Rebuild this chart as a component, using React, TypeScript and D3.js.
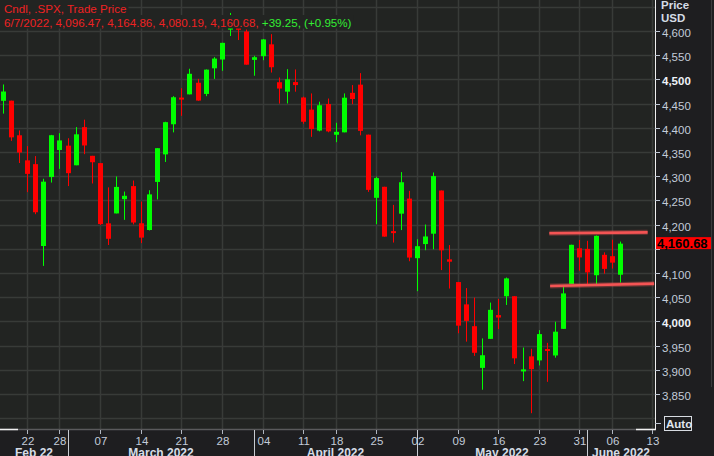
import { useEffect, useRef } from "react";
import * as d3 from "d3";

// daily S&P 500 candles
const dates = [
  "2022-02-16", "2022-02-17", "2022-02-18", "2022-02-22", "2022-02-23", "2022-02-24", "2022-02-25",
  "2022-02-28", "2022-03-01", "2022-03-02", "2022-03-03", "2022-03-04",
  "2022-03-07", "2022-03-08", "2022-03-09", "2022-03-10", "2022-03-11",
  "2022-03-14", "2022-03-15", "2022-03-16", "2022-03-17", "2022-03-18",
  "2022-03-21", "2022-03-22", "2022-03-23", "2022-03-24", "2022-03-25",
  "2022-03-28", "2022-03-29", "2022-03-30", "2022-03-31", "2022-04-01",
  "2022-04-04", "2022-04-05", "2022-04-06", "2022-04-07", "2022-04-08",
  "2022-04-11", "2022-04-12", "2022-04-13", "2022-04-14",
  "2022-04-18", "2022-04-19", "2022-04-20", "2022-04-21", "2022-04-22",
  "2022-04-25", "2022-04-26", "2022-04-27", "2022-04-28", "2022-04-29",
  "2022-05-02", "2022-05-03", "2022-05-04", "2022-05-05", "2022-05-06",
  "2022-05-09", "2022-05-10", "2022-05-11", "2022-05-12", "2022-05-13",
  "2022-05-16", "2022-05-17", "2022-05-18", "2022-05-19", "2022-05-20",
  "2022-05-23", "2022-05-24", "2022-05-25", "2022-05-26", "2022-05-27",
  "2022-05-31", "2022-06-01", "2022-06-02", "2022-06-03",
  "2022-06-06", "2022-06-07",
];
const opens = [
  4455.75, 4456.06, 4384.57, 4332.74, 4324.93, 4155.77, 4298.38,
  4354.17, 4363.14, 4322.56, 4401.31, 4342.12,
  4327.01, 4202.66, 4223.1, 4252.55, 4279.5,
  4202.75, 4188.82, 4288.14, 4345.11, 4407.34,
  4462.4, 4469.1, 4493.1, 4469.98, 4522.91,
  4541.09, 4602.86, 4624.2, 4599.02, 4540.32,
  4547.97, 4572.45, 4494.15, 4474.65, 4494.52,
  4462.64, 4437.59, 4394.3, 4449.12,
  4385.63, 4390.63, 4472.26, 4489.17, 4385.83,
  4255.34, 4278.14, 4186.52, 4222.58, 4253.75,
  4130.61, 4159.78, 4181.18, 4270.43, 4128.17,
  4081.27, 4035.18, 3990.08, 3903.95, 3963.9,
  4013.02, 4052.0, 4051.98, 3899.0, 3927.76,
  3919.42, 3942.94, 3929.59, 3984.6, 4077.43,
  4151.09, 4149.78, 4095.41, 4137.57,
  4134.72, 4096.47,
];
const highs = [
  4489.55, 4456.06, 4394.6, 4362.12, 4341.51, 4294.73, 4385.34,
  4388.84, 4378.45, 4401.48, 4416.78, 4342.12,
  4327.01, 4276.94, 4299.4, 4268.28, 4291.01,
  4247.57, 4271.0, 4358.0, 4412.5, 4465.4,
  4481.75, 4522.0, 4501.07, 4520.58, 4546.03,
  4575.65, 4637.3, 4627.77, 4603.07, 4548.7,
  4583.5, 4593.45, 4503.94, 4521.16, 4520.58,
  4464.35, 4471.0, 4453.92, 4460.46,
  4410.31, 4471.03, 4488.29, 4512.94, 4385.83,
  4299.02, 4278.14, 4240.71, 4308.45, 4269.68,
  4169.81, 4200.1, 4307.66, 4270.43, 4157.69,
  4081.27, 4068.82, 4049.09, 3964.8, 4038.88,
  4046.46, 4090.72, 4051.98, 3945.96, 3943.42,
  3981.88, 3955.68, 3999.33, 4075.14, 4158.49,
  4168.34, 4166.54, 4177.51, 4142.67,
  4168.78, 4164.86,
];
const lows = [
  4429.28, 4373.01, 4327.22, 4267.11, 4221.51, 4114.65, 4286.83,
  4315.12, 4279.54, 4322.56, 4345.56, 4284.98,
  4199.22, 4157.87, 4223.1, 4209.8, 4200.49,
  4161.72, 4187.9, 4251.99, 4329.37, 4390.57,
  4424.7, 4469.1, 4455.81, 4465.4, 4501.07,
  4517.69, 4589.66, 4581.32, 4530.41, 4507.57,
  4539.66, 4514.17, 4450.04, 4450.3, 4474.6,
  4408.38, 4381.34, 4392.7, 4390.77,
  4370.3, 4390.63, 4448.76, 4384.47, 4267.62,
  4200.82, 4175.04, 4162.9, 4188.63, 4124.28,
  4062.51, 4147.08, 4148.91, 4106.01, 4067.91,
  3975.48, 3958.17, 3928.82, 3858.87, 3963.9,
  3983.99, 4033.93, 3911.91, 3876.58, 3810.32,
  3909.04, 3875.13, 3925.03, 3984.6, 4077.43,
  4104.88, 4073.85, 4074.37, 4098.67,
  4109.18, 4080.19,
];
const closes = [
  4475.01, 4380.26, 4348.87, 4304.76, 4225.5, 4288.7, 4384.65,
  4373.94, 4306.26, 4386.54, 4363.49, 4328.87,
  4201.09, 4170.7, 4277.88, 4259.52, 4204.31,
  4173.11, 4262.45, 4357.86, 4411.67, 4463.12,
  4461.18, 4511.61, 4456.24, 4520.16, 4543.06,
  4575.52, 4631.6, 4602.45, 4530.41, 4545.86,
  4582.64, 4525.12, 4481.15, 4500.21, 4488.28,
  4412.53, 4397.45, 4446.59, 4392.59,
  4391.69, 4462.21, 4459.45, 4393.66, 4271.78,
  4296.12, 4175.2, 4183.96, 4287.5, 4131.93,
  4155.38, 4175.48, 4300.17, 4146.87, 4123.34,
  3991.24, 4001.05, 3935.18, 3930.08, 4023.89,
  4008.01, 4088.85, 3923.68, 3900.79, 3901.36,
  3973.75, 3941.48, 3978.73, 4057.84, 4158.24,
  4132.15, 4101.23, 4176.82, 4108.54,
  4121.43, 4160.68,
];
const futureDates = ["2022-06-08", "2022-06-09", "2022-06-10", "2022-06-13"];

const weekTicks = [
  "2022-02-22", "2022-02-28", "2022-03-07", "2022-03-14", "2022-03-21", "2022-03-28",
  "2022-04-04", "2022-04-11", "2022-04-18", "2022-04-25", "2022-05-02", "2022-05-09",
  "2022-05-16", "2022-05-23", "2022-05-31", "2022-06-06", "2022-06-13",
];
const monthStarts = ["2022-03-01", "2022-04-01", "2022-05-02", "2022-06-01"];
const monthLabels = ["Feb 22", "March 2022", "April 2022", "May 2022", "June 2022"];

const priceTicks = [3850, 3900, 3950, 4000, 4050, 4100, 4150, 4200, 4250, 4300, 4350, 4400, 4450, 4500, 4550, 4600];
const gridPrices = [3800, ...priceTicks, 4650];
const boldPrices = [4000, 4500];

// hand-drawn channel: [day index, price]
const channelLines: [number, number][][] = [
  [[67.3, 4182], [79.4, 4184]],
  [[67.4, 4073], [80.2, 4078]],
];

const W = 714;
const H = 456;
const plotR = 655;
const plotB = 429;
const UP = "#00ff00";
const DOWN = "#ff0000";
const FONT = "'Liberation Sans', Arial, sans-serif";

export default function App() {
  const ref = useRef<SVGSVGElement | null>(null);

  useEffect(() => {
    document.body.style.margin = "0";
    document.body.style.background = "#1e1e20";
    if (!ref.current) return;
    const svg = d3.select(ref.current);
    svg.selectAll("*").remove();

    const days = [...dates, ...futureDates];
    const idx = (d: string) => days.indexOf(d);
    const x = d3.scaleLinear().domain([-0.32, 80.31]).range([0, plotR]);
    const y = d3.scaleLinear().domain([3850, 4600]).range([394, 31]);
    const px = (i: number) => Math.round(x(i));
    const last = dates.length - 1;
    const ly = y(closes[last]);

    svg.append("rect").attr("width", W).attr("height", H).attr("fill", "#1e1e20");
    svg.append("rect").attr("width", plotR).attr("height", plotB).attr("fill", "#222422");
    svg.append("line")
      .attr("x1", 711.5).attr("x2", 711.5).attr("y1", 0).attr("y2", 387)
      .attr("stroke", "#3a3a3c");

    svg.append("clipPath").attr("id", "plot")
      .append("rect").attr("width", plotR).attr("height", plotB);

    const grid = svg.append("g").attr("stroke", "#383b38").attr("stroke-width", 1.5);
    grid.selectAll("line.h").data(gridPrices).join("line")
      .attr("class", "h")
      .attr("x1", 0).attr("x2", plotR)
      .attr("y1", (d) => Math.round(y(d)) + 0.5)
      .attr("y2", (d) => Math.round(y(d)) + 0.5);
    grid.selectAll("line.v").data(weekTicks).join("line")
      .attr("class", "v")
      .attr("y1", 0).attr("y2", plotB)
      .attr("x1", (d) => px(idx(d)) + 0.5)
      .attr("x2", (d) => px(idx(d)) + 0.5);

    const candles = svg.append("g").attr("clip-path", "url(#plot)")
      .selectAll("g").data(dates.map((d, i) => i)).join("g")
      .attr("fill", (i) => (closes[i] >= opens[i] ? UP : DOWN))
      .attr("stroke", (i) => (closes[i] >= opens[i] ? UP : DOWN));
    candles.append("line")
      .attr("x1", (i) => px(i) + 0.5).attr("x2", (i) => px(i) + 0.5)
      .attr("y1", (i) => y(highs[i])).attr("y2", (i) => y(lows[i]));
    candles.append("rect")
      .attr("stroke", "none")
      .attr("x", (i) => px(i) - 2)
      .attr("width", 5)
      .attr("y", (i) => y(Math.max(opens[i], closes[i])))
      .attr("height", (i) => Math.max(2, Math.abs(y(opens[i]) - y(closes[i]))));

    const line = d3.line<[number, number]>().x((d) => x(d[0])).y((d) => y(d[1]));
    const ch = svg.append("g").attr("fill", "none");
    ch.selectAll("path.glow").data(channelLines).join("path")
      .attr("class", "glow")
      .attr("d", (d) => line(d))
      .attr("stroke", "rgba(255,90,90,0.3)").attr("stroke-width", 5);
    ch.selectAll("path.main").data(channelLines).join("path")
      .attr("class", "main")
      .attr("d", (d) => line(d))
      .attr("stroke", "#f45454").attr("stroke-width", 2.6);

    // header
    const f2 = d3.format(",.2f");
    const chg = closes[last] - closes[last - 1];
    const pct = (chg / closes[last - 1]) * 100;
    const dateTxt = d3.timeFormat("%-m/%-d/%Y")(d3.timeParse("%Y-%m-%d")(dates[last])!);
    const redPart = `${dateTxt}, ${f2(opens[last])}, ${f2(highs[last])}, ${f2(lows[last])}, ${f2(closes[last])}, `;
    const greenPart = `${chg >= 0 ? "+" : ""}${f2(chg)}, (${pct >= 0 ? "+" : ""}${pct.toFixed(2)}%)`;

    const head = svg.append("g").style("font-family", FONT).style("font-size", "11.6px");
    const m1 = head.append("rect").attr("fill", "#222422").attr("y", 0).attr("height", 14);
    const m2 = head.append("rect").attr("fill", "#222422").attr("y", 15).attr("height", 13.5);
    const t1 = head.append("text").attr("x", 4).attr("y", 12.5).attr("fill", "#ee2222")
      .text("Cndl, .SPX, Trade Price");
    const t2 = head.append("text").attr("x", 4).attr("y", 26.5);
    t2.append("tspan").attr("fill", "#ee2222").text(redPart);
    t2.append("tspan").attr("fill", "#33ee33").text(greenPart);
    m1.attr("x", 0).attr("width", (t1.node() as SVGTextElement).getComputedTextLength() + 6);
    m2.attr("x", 0).attr("width", (t2.node() as SVGTextElement).getComputedTextLength() + 6);

    // right axis; the label hidden under the last-price tag is left out
    const shown = priceTicks.filter((d) => Math.abs(y(d) + 2 - ly) > 9);
    svg.append("line")
      .attr("x1", plotR + 0.5).attr("x2", plotR + 0.5).attr("y1", 0).attr("y2", plotB + 1)
      .attr("stroke", "#f0f0f0");
    const ra = svg.append("g").style("font-family", FONT).style("font-size", "11.5px");
    ra.selectAll("line").data(priceTicks).join("line")
      .attr("x1", plotR).attr("x2", plotR + 5)
      .attr("y1", (d) => Math.round(y(d)) + 0.5).attr("y2", (d) => Math.round(y(d)) + 0.5)
      .attr("stroke", "#c0c8d4");
    ra.selectAll("text").data(shown).join("text")
      .attr("x", plotR + 7)
      .attr("y", (d) => y(d) + 6)
      .attr("fill", (d) => (boldPrices.includes(d) ? "#eef2f7" : "#c3ccd9"))
      .attr("font-weight", (d) => (boldPrices.includes(d) ? "bold" : "normal"))
      .text((d) => d3.format(",")(d));
    ra.append("text").attr("x", plotR + 6).attr("y", 9).attr("fill", "#d5dce6")
      .attr("font-weight", "bold").text("Price");
    ra.append("text").attr("x", plotR + 6).attr("y", 22).attr("fill", "#d5dce6")
      .attr("font-weight", "bold").text("USD");

    // last price tag
    svg.append("rect").attr("x", plotR + 1).attr("y", ly - 6.5).attr("width", 55).attr("height", 12)
      .attr("fill", "#ff0000");
    svg.append("text").attr("x", plotR + 2).attr("y", ly + 4.5)
      .style("font-family", FONT).style("font-size", "13px").attr("font-weight", "bold")
      .attr("fill", "#000").text(f2(closes[last]));

    // auto button
    svg.append("line").attr("x1", plotR).attr("x2", plotR + 6).attr("y1", 423.5).attr("y2", 423.5)
      .attr("stroke", "#c0c8d4");
    svg.append("rect").attr("x", 664.5).attr("y", 416.5).attr("width", 27).attr("height", 14)
      .attr("fill", "none").attr("stroke", "#d8dce2");
    svg.append("text").attr("x", 666).attr("y", 427.5)
      .style("font-family", FONT).style("font-size", "11.5px").attr("font-weight", "bold")
      .attr("fill", "#e0e6ee").text("Auto");

    // bottom axis
    svg.append("line").attr("x1", 0).attr("x2", plotR).attr("y1", plotB + 0.5).attr("y2", plotB + 0.5)
      .attr("stroke", "#5a5a5c").attr("stroke-width", 1.5);
    svg.append("line").attr("x1", 0).attr("x2", 18).attr("y1", plotB + 0.5).attr("y2", plotB + 0.5)
      .attr("stroke", "#f0f0f0").attr("stroke-width", 1.5);
    svg.append("line").attr("x1", 636).attr("x2", plotR + 1).attr("y1", plotB + 0.5).attr("y2", plotB + 0.5)
      .attr("stroke", "#f0f0f0").attr("stroke-width", 1.5);

    const ba = svg.append("g").style("font-family", FONT);
    ba.selectAll("line.tick").data(weekTicks).join("line")
      .attr("class", "tick")
      .attr("x1", (d) => px(idx(d)) + 0.5).attr("x2", (d) => px(idx(d)) + 0.5)
      .attr("y1", plotB + 1).attr("y2", plotB + 5)
      .attr("stroke", "#b0b6c0");
    ba.selectAll("text.day").data(weekTicks).join("text")
      .attr("class", "day")
      .attr("x", (d) => px(idx(d)) + 1)
      .attr("y", 445)
      .attr("text-anchor", "middle")
      .style("font-size", "11.5px")
      .attr("fill", "#c3ccd9")
      .text((d) => d.slice(8));

    ba.selectAll("line.sep").data(monthStarts).join("line")
      .attr("class", "sep")
      .attr("x1", (d) => px(idx(d)) + 0.5).attr("x2", (d) => px(idx(d)) + 0.5)
      .attr("y1", plotB + 1).attr("y2", H)
      .attr("stroke", "#c8ccd2");
    const bounds = [0, ...monthStarts.map((d) => px(idx(d))), plotR];
    ba.selectAll("text.month").data(monthLabels).join("text")
      .attr("class", "month")
      .attr("x", (d, i) => (bounds[i] + bounds[i + 1]) / 2)
      .attr("y", 457)
      .attr("text-anchor", "middle")
      .style("font-size", "12px")
      .attr("font-weight", "bold")
      .attr("fill", "#d5dce6")
      .text((d) => d);
  }, []);

  return <svg ref={ref} width={W} height={H} style={{ display: "block" }} />;
}
